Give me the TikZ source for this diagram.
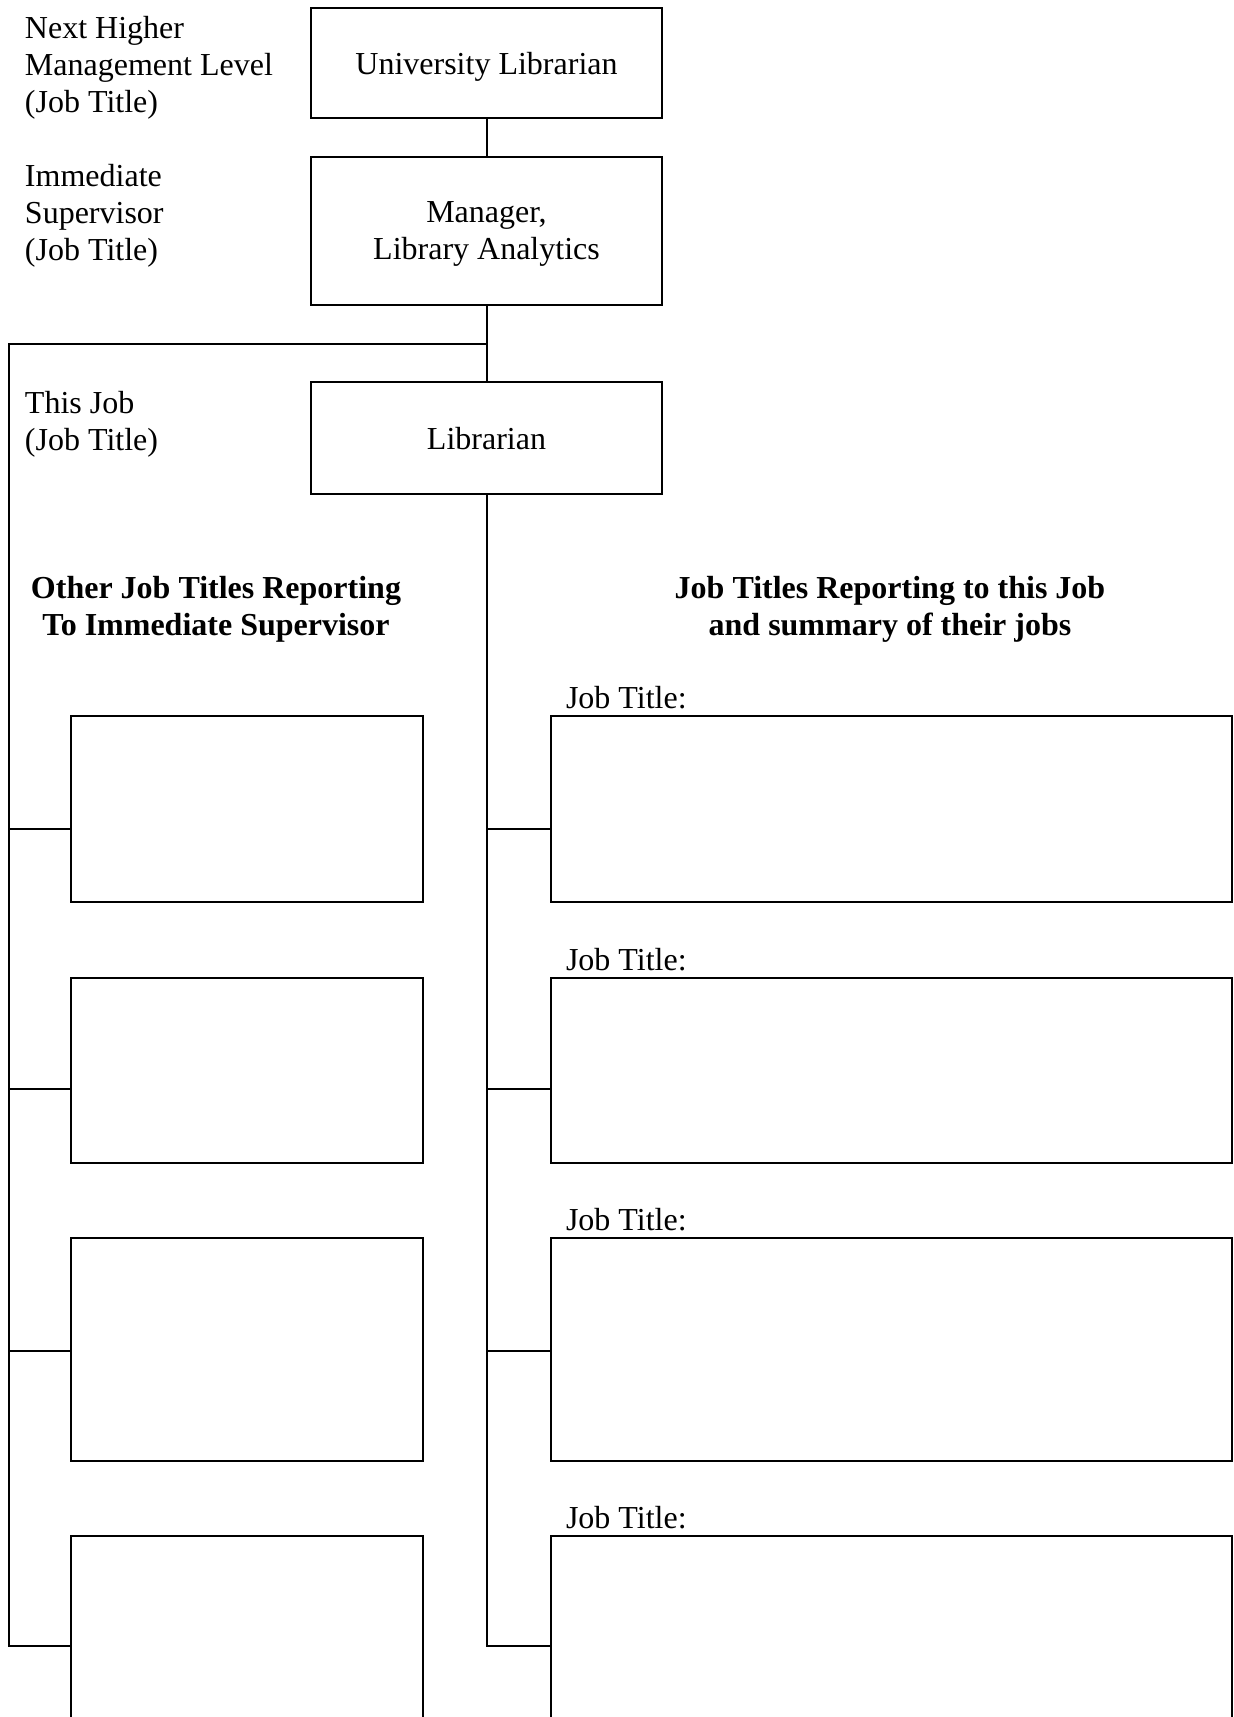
\documentclass[tikz,border=0pt]{standalone}
\usepackage{fontspec}
\setmainfont{Liberation Serif}

\tikzset{
  jobbox/.style={draw,line width=1.2pt,minimum width=175.5pt,align=center,inner sep=0pt,text depth=-1.9pt},
  otherbox/.style={draw,line width=1.2pt,minimum width=176pt,inner sep=0pt},
  reportbox/.style={draw,line width=1.2pt,minimum width=340.5pt,inner sep=0pt},
  sidelabel/.style={anchor=west,align=left,inner sep=0pt},
  heading/.style={align=center,inner sep=0pt,font=\fontsize{16}{18.5}\selectfont\bfseries},
  titlelabel/.style={anchor=base west,inner sep=0pt}
}

\begin{document}
\begin{tikzpicture}[x=0.5pt,y=-0.5pt,line width=1pt,font=\fontsize{16}{18.5}\selectfont]
  \useasboundingbox (0,0) rectangle (1234,1717);
  \clip (0,0) rectangle (1234,1717);

  % chain of command
  \node[jobbox,minimum height=55pt] (univ) at (486.5,63) {University Librarian};
  \node[jobbox,minimum height=74pt] (mgr) at (486.5,231) {Manager,\\Library Analytics};
  \node[jobbox,minimum height=56pt] (lib) at (486.5,438) {Librarian};

  \node[sidelabel] (lvlNext) at (24,68) {Next Higher\\Management Level\\(Job Title)};
  \node[sidelabel] (lvlSup) at (24,216) {Immediate\\Supervisor\\(Job Title)};
  \node[sidelabel] (lvlThis) at (24,424) {This Job\\(Job Title)};

  % column headings
  \node[heading] (hdOther) at (216,609) {Other Job Titles Reporting\\To Immediate Supervisor};
  \node[heading] (hdReport) at (890,609) {Job Titles Reporting to this Job\\and summary of their jobs};

  % other jobs under the supervisor
  \node[otherbox,minimum height=93pt] (other1) at (247,809) {};
  \node[otherbox,minimum height=92.5pt] (other2) at (247,1070.5) {};
  \node[otherbox,minimum height=111.5pt] (other3) at (247,1349.5) {};
  \node[otherbox,minimum height=150pt] (other4) at (247,1686) {};

  % jobs reporting to this job
  \node[reportbox,minimum height=93pt] (rep1) at (891.5,809) {};
  \node[reportbox,minimum height=92.5pt] (rep2) at (891.5,1070.5) {};
  \node[reportbox,minimum height=111.5pt] (rep3) at (891.5,1349.5) {};
  \node[reportbox,minimum height=150pt] (rep4) at (891.5,1686) {};

  \node[titlelabel] (rep1title) at (565,708) {Job Title:};
  \node[titlelabel] (rep2title) at (565,970) {Job Title:};
  \node[titlelabel] (rep3title) at (565,1230) {Job Title:};
  \node[titlelabel] (rep4title) at (565,1528) {Job Title:};

  % connectors
  \coordinate (split) at (486.5,344);
  \coordinate (spineL) at (9,344);
  \coordinate (spineLend) at (9,1646);
  \coordinate (spineRend) at (486.5,1646);
  \coordinate (armL1) at (9,829);
  \coordinate (armL2) at (9,1089);
  \coordinate (armL3) at (9,1351);
  \coordinate (armR1) at (486.5,829);
  \coordinate (armR2) at (486.5,1089);
  \coordinate (armR3) at (486.5,1351);

  \draw (univ) -- (mgr);
  \draw (mgr) -- (lib);
  \draw (split) -- (spineL) -- (spineLend) -- (spineLend -| other4.west);
  \draw (armL1) -- (armL1 -| other1.west);
  \draw (armL2) -- (armL2 -| other2.west);
  \draw (armL3) -- (armL3 -| other3.west);
  \draw (lib) -- (spineRend) -- (spineRend -| rep4.west);
  \draw (armR1) -- (armR1 -| rep1.west);
  \draw (armR2) -- (armR2 -| rep2.west);
  \draw (armR3) -- (armR3 -| rep3.west);
\end{tikzpicture}
\end{document}
